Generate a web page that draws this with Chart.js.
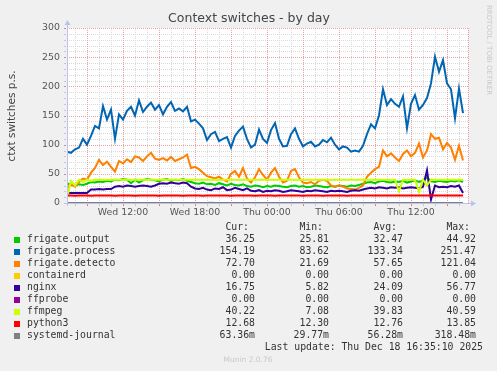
<!DOCTYPE html>
<html>
<head>
<meta charset="utf-8">
<script src="https://cdn.jsdelivr.net/npm/chart.js@4"></script>
<style>
html,body{margin:0;padding:0;background:#f0f0f0;}
canvas{display:block;}
</style>
</head>
<body>
<canvas id="myChart" width="497" height="371"></canvas>
<script>
// hours since Wed 00:00, one sample every 20 minutes
const startHour = 7 + 20/60;
const stepHour = 20/60;
const axisMin = 7 + 20/60;
const axisMax = 40.75;
const xTickHours = [12, 18, 24, 30, 36];
const xTickLabels = ["Wed 12:00", "Wed 18:00", "Thu 00:00", "Thu 06:00", "Thu 12:00"];
const yTicks = [0, 50, 100, 150, 200, 250, 300];

const names = ["frigate.output", "frigate.process", "frigate.detecto", "containerd", "nginx", "ffprobe", "ffmpeg", "python3", "systemd-journal"];
const colors = ["#00cc00", "#0066b3", "#ff8000", "#ffcc00", "#330099", "#990099", "#ccff00", "#ff0000", "#808080"];
const curVals = ["36.25", "154.19", "72.70", "0.00", "16.75", "0.00", "40.22", "12.68", "63.36m"];
const minVals = ["25.81", "83.62", "21.69", "0.00", "5.82", "0.00", "7.08", "12.30", "29.77m"];
const avgVals = ["32.47", "133.34", "57.65", "0.00", "24.09", "0.00", "39.83", "12.76", "56.28m"];
const maxVals = ["44.92", "251.47", "121.04", "0.00", "56.77", "0.00", "40.59", "13.85", "318.48m"];

const frigateOutput = [
  34,31,30,32,31,33,36,35,37,36,
  38,37,40,39,41,40,34,40,35,39,
  41,40,39,37,40,41,38,40,39,41,
  38,36,34,33,35,32,33,31,34,32,
  30,33,31,30,32,29,28,30,29,27,
  29,28,30,29,28,27,29,30,28,29,
  27,28,30,29,28,27,29,28,30,29,
  28,30,29,31,33,35,36,34,37,38,
  36,35,37,36,38,35,37,39,36,38,
  44,37,36,38,37,36,38,37,39,36];
const frigateProcess = [
  88,86,92,95,110,100,115,132,128,166,
  143,160,110,152,143,158,165,150,176,156,
  165,172,160,168,152,165,173,158,162,157,
  165,140,143,136,128,108,118,122,106,110,
  113,95,115,124,131,110,95,100,126,110,
  103,125,137,110,97,98,118,128,110,97,
  102,105,97,100,108,104,112,100,92,97,
  95,88,90,88,98,118,135,128,150,195,
  168,178,170,165,183,128,170,185,160,168,
  180,205,251,225,245,205,195,145,196,154];
const frigateDetecto = [
  25,32,28,36,42,40,52,60,74,65,
  71,62,54,72,68,75,70,80,78,72,
  80,86,76,74,77,73,79,72,75,78,
  83,60,62,58,52,46,44,42,45,40,
  37,50,55,45,60,42,35,44,58,48,
  40,52,60,45,35,38,55,58,44,35,
  34,36,32,38,40,38,30,28,30,28,
  25,24,23,26,30,45,52,58,62,90,
  80,85,78,72,84,90,80,86,102,78,
  90,118,110,112,92,103,95,74,98,73];
const containerd = [
  0,0,0,0,0,0,0,0,0,0, 0,0,0,0,0,0,0,0,0,0,
  0,0,0,0,0,0,0,0,0,0, 0,0,0,0,0,0,0,0,0,0,
  0,0,0,0,0,0,0,0,0,0, 0,0,0,0,0,0,0,0,0,0,
  0,0,0,0,0,0,0,0,0,0, 0,0,0,0,0,0,0,0,0,0,
  0,0,0,0,0,0,0,0,0,0, 0,0,0,0,0,0,0,0,0,0];
const nginx = [
  17,17,17,17,17,17,23,23,24,23,
  24,24,28,29,28,30,29,28,29,30,
  29,28,30,33,34,33,35,34,33,35,
  34,28,25,24,26,23,22,25,24,27,
  22,23,26,24,22,25,21,20,22,19,
  21,20,22,21,19,20,22,21,20,19,
  21,20,22,21,20,19,21,20,21,20,
  19,21,22,21,23,25,26,25,27,26,
  25,27,26,27,25,26,27,26,25,28,
  56,6,30,27,28,27,29,28,30,17];
const ffprobe = [
  0,0,0,0,0,0,0,0,0,0, 0,0,0,0,0,0,0,0,0,0,
  0,0,0,0,0,0,0,0,0,0, 0,0,0,0,0,0,0,0,0,0,
  0,0,0,0,0,0,0,0,0,0, 0,0,0,0,0,0,0,0,0,0,
  0,0,0,0,0,0,0,0,0,0, 0,0,0,0,0,0,0,0,0,0,
  0,0,0,0,0,0,0,0,0,0, 0,0,0,0,0,0,0,0,0,0];
const ffmpeg = [
  8,38,30,40,36,40,38,40,40,40,
  40,40,40,40,40,40,40,40,40,40,
  40,40,40,40,40,40,40,40,40,40,
  40,40,40,40,40,40,40,40,40,40,
  40,40,40,40,40,40,40,40,40,40,
  40,40,40,40,40,40,40,40,40,40,
  40,40,40,40,40,40,40,40,40,40,
  40,40,40,40,40,40,40,40,40,40,
  40,40,40,20,40,40,40,40,19,40,
  30,40,40,40,40,40,40,40,40,40];
const python3 = [
  12.7,12.8,12.6,12.7,12.9,12.7,12.6,12.8,12.7,12.7,
  12.8,12.7,12.6,12.7,12.8,12.9,12.7,12.6,12.7,12.8,
  12.7,12.7,12.8,12.6,12.7,12.9,12.7,12.8,12.7,12.6,
  12.7,12.8,12.7,12.7,12.6,12.8,12.7,12.9,12.7,12.8,
  12.7,12.6,12.7,12.8,12.7,12.7,12.8,12.6,12.7,12.7,
  12.8,12.7,12.6,12.7,12.8,12.7,12.7,12.9,12.7,12.6,
  12.7,12.8,12.7,12.7,12.6,12.8,12.7,12.7,12.8,12.7,
  12.6,12.7,12.8,12.7,12.7,12.9,12.8,12.7,12.8,12.9,
  12.8,12.7,12.9,12.8,12.7,12.8,12.9,12.7,12.8,12.7,
  12.8,12.9,12.7,12.8,12.7,12.8,12.7,12.8,12.7,12.7];
const systemdJournal = [
  0.06,0.05,0.06,0.06,0.05,0.06,0.06,0.05,0.06,0.06,
  0.05,0.06,0.06,0.05,0.06,0.06,0.05,0.06,0.06,0.05,
  0.06,0.06,0.05,0.06,0.06,0.05,0.06,0.06,0.05,0.06,
  0.06,0.05,0.06,0.06,0.05,0.06,0.32,0.05,0.06,0.06,
  0.05,0.06,0.06,0.05,0.06,0.06,0.05,0.06,0.06,0.05,
  0.06,0.06,0.05,0.06,0.06,0.05,0.06,0.06,0.05,0.06,
  0.06,0.05,0.06,0.06,0.05,0.06,0.06,0.05,0.06,0.06,
  0.05,0.06,0.06,0.05,0.06,0.06,0.05,0.06,0.06,0.05,
  0.06,0.06,0.05,0.06,0.06,0.05,0.06,0.06,0.05,0.06,
  0.06,0.05,0.06,0.06,0.05,0.06,0.06,0.05,0.06,0.06];

const series = [frigateOutput, frigateProcess, frigateDetecto, containerd, nginx, ffprobe, ffmpeg, python3, systemdJournal];

const gridMinor = "#d9d9d9";
const gridMajor = "#e9a3a3";
const axisColor = "#bcc2ee";

const munin = {
  id: "munin",
  beforeDraw(chart) {
    const ctx = chart.ctx, a = chart.chartArea;
    ctx.save();
    ctx.fillStyle = "#f0f0f0";
    ctx.fillRect(0, 0, chart.width, chart.height);
    ctx.fillStyle = "#ffffff";
    ctx.fillRect(a.left, a.top, a.right - a.left, a.bottom - a.top);
    ctx.restore();
  },
  beforeDatasetsDraw(chart) {
    const ctx = chart.ctx, a = chart.chartArea;
    const xs = chart.scales.x, ys = chart.scales.y;
    ctx.save();
    ctx.lineWidth = 1;
    ctx.setLineDash([1, 1]);
    const hline = (v, c) => {
      const y = Math.round(ys.getPixelForValue(v)) + 0.5;
      ctx.strokeStyle = c;
      ctx.beginPath(); ctx.moveTo(a.left, y); ctx.lineTo(a.right, y); ctx.stroke();
    };
    const vline = (h, c) => {
      const x = Math.round(xs.getPixelForValue(h)) + 0.5;
      ctx.strokeStyle = c;
      ctx.beginPath(); ctx.moveTo(x, a.top); ctx.lineTo(x, a.bottom); ctx.stroke();
    };
    for (let v = 10; v <= 300; v += 10) if (v % 50) hline(v, gridMinor);
    for (let h = 8; h <= 40; h++) if (h % 3) vline(h, gridMinor);
    for (let v = 50; v <= 300; v += 50) hline(v, gridMajor);
    for (let h = 9; h <= 40; h += 3) vline(h, gridMajor);
    vline(axisMax, gridMajor);
    ctx.restore();
  },
  afterDatasetsDraw(chart) {
    const ctx = chart.ctx, a = chart.chartArea;
    const xs = chart.scales.x, ys = chart.scales.y;
    ctx.save();
    // tick marks
    ctx.lineWidth = 1;
    for (let h = 8; h <= 40; h++) {
      const x = Math.round(xs.getPixelForValue(h)) + 0.5;
      ctx.strokeStyle = h % 3 ? "#c8c8c8" : "#e08080";
      ctx.beginPath(); ctx.moveTo(x, a.bottom + 1); ctx.lineTo(x, a.bottom + 3); ctx.stroke();
    }
    for (let v = 0; v <= 300; v += 10) {
      const y = Math.round(ys.getPixelForValue(v)) + 0.5;
      ctx.strokeStyle = v % 50 ? "#c8c8c8" : "#a0a0a0";
      ctx.beginPath(); ctx.moveTo(a.left - 3, y); ctx.lineTo(a.left - 1, y); ctx.stroke();
    }
    // axes with arrows
    const y0 = Math.round(a.bottom) + 0.5, x0 = Math.round(a.left) + 0.5;
    ctx.strokeStyle = axisColor;
    ctx.fillStyle = axisColor;
    ctx.beginPath(); ctx.moveTo(a.left - 3, y0); ctx.lineTo(a.right + 4, y0); ctx.stroke();
    ctx.beginPath(); ctx.moveTo(a.right + 3, y0 - 3); ctx.lineTo(a.right + 8, y0); ctx.lineTo(a.right + 3, y0 + 3); ctx.closePath(); ctx.fill();
    ctx.beginPath(); ctx.moveTo(x0, a.bottom + 3); ctx.lineTo(x0, a.top - 4); ctx.stroke();
    ctx.beginPath(); ctx.moveTo(x0 - 3, a.top - 3); ctx.lineTo(x0, a.top - 8); ctx.lineTo(x0 + 3, a.top - 3); ctx.closePath(); ctx.fill();
    ctx.restore();
  },
  afterDraw(chart) {
    const ctx = chart.ctx;
    ctx.save();
    // title
    ctx.fillStyle = "#444";
    ctx.textAlign = "center";
    ctx.textBaseline = "middle";
    ctx.font = "12.5px 'DejaVu Sans'";
    ctx.fillText("Context switches - by day", 249, 19);
    // y axis title
    ctx.save();
    ctx.translate(12, 116);
    ctx.rotate(-Math.PI / 2);
    ctx.font = "10.5px 'DejaVu Sans'";
    ctx.fillText("ctxt switches p.s.", 0, 0);
    ctx.restore();
    // rrdtool watermark
    ctx.save();
    ctx.translate(489, 5);
    ctx.rotate(Math.PI / 2);
    ctx.textAlign = "left";
    ctx.fillStyle = "#c8c8c8";
    ctx.font = "7px 'DejaVu Sans'";
    ctx.fillText("RRDTOOL / TOBI OETIKER", 0, 0);
    ctx.restore();
    // legend table
    ctx.font = "9.8px 'DejaVu Sans Mono'";
    ctx.fillStyle = "#333";
    ctx.textAlign = "right";
    const heads = ["Cur:", "Min:", "Avg:", "Max:"];
    const headX = [249, 323, 397, 470];
    const colX = [255, 329, 403, 476];
    heads.forEach((h, i) => ctx.fillText(h, headX[i], 227.5));
    names.forEach((n, i) => {
      const y = 239.5 + i * 12.05;
      ctx.fillStyle = colors[i];
      ctx.fillRect(14, Math.round(y) - 3, 6, 6);
      ctx.fillStyle = "#333";
      ctx.textAlign = "left";
      ctx.fillText(n, 27, y);
      ctx.textAlign = "right";
      [curVals, minVals, avgVals, maxVals].forEach((arr, k) => ctx.fillText(arr[i], colX[k], y));
    });
    ctx.fillText("Last update: Thu Dec 18 16:35:10 2025", 483, 347.7);
    ctx.textAlign = "center";
    ctx.fillStyle = "#c8c8c8";
    ctx.font = "7.5px 'DejaVu Sans'";
    ctx.fillText("Munin 2.0.76", 248, 360);
    ctx.restore();
  }
};

const graph = new Chart("myChart", {
  type: "line",
  data: {
    datasets: series.map((vals, k) => ({
      label: names[k],
      data: vals.map((v, i) => ({ x: startHour + i * stepHour, y: v })),
      borderColor: colors[k],
      backgroundColor: colors[k],
      borderWidth: 2,
      pointRadius: 0,
      tension: 0,
      fill: false,
      order: series.length - k
    }))
  },
  options: {
    responsive: false,
    animation: false,
    layout: { padding: { top: 28, right: 29, bottom: 148, left: 0 } },
    plugins: { legend: { display: false }, tooltip: { enabled: false }, title: { display: false } },
    scales: {
      x: {
        type: "linear",
        min: axisMin,
        max: axisMax,
        grid: { display: false, drawTicks: false },
        border: { display: false },
        afterBuildTicks: s => { s.ticks = xTickHours.map(v => ({ value: v })); },
        afterFit: s => { s.height = 20; },
        ticks: {
          autoSkip: false, maxRotation: 0, padding: 4, color: "#555",
          font: { family: "'DejaVu Sans'", size: 9.4 },
          callback: (v, i) => xTickLabels[i]
        }
      },
      y: {
        min: 0,
        max: 300,
        grid: { display: false, drawTicks: false },
        border: { display: false },
        afterBuildTicks: s => { s.ticks = yTicks.map(v => ({ value: v })); },
        afterFit: s => { s.width = 67; },
        ticks: {
          padding: 7, color: "#555",
          font: { family: "'DejaVu Sans'", size: 9.4 }
        }
      }
    }
  },
  plugins: [munin]
});
</script>
</body>
</html>
